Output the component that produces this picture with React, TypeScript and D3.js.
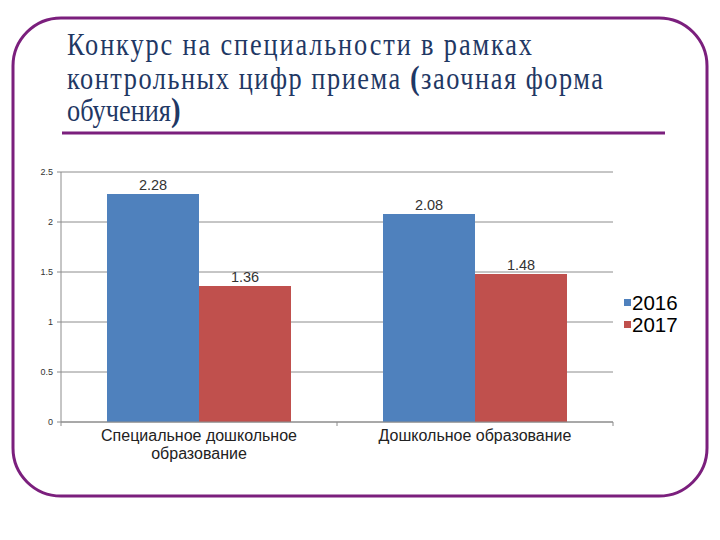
import React from 'react';
import * as d3 from 'd3';

const categories = ['Специальное дошкольное образование', 'Дошкольное образование'];
const categoryLines = [['Специальное дошкольное', 'образование'], ['Дошкольное образование']];
const seriesNames = ['2016', '2017'];
const values2016 = [2.28, 2.08];
const values2017 = [1.36, 1.48];
const yTicks = [0, 0.5, 1, 1.5, 2, 2.5];
const titleLines = ['Конкурс на специальности в рамках', 'контрольных цифр приема ', 'обучения'];

const colors = ['#4f81bd', '#c0504d'];
const purple = '#7b1f7d';
const titleColor = '#1f3864';
const sans = 'Liberation Sans';
const serif = 'Liberation Serif';

const App: React.FC = () => {
  const width = 720;
  const height = 540;
  const plot = { left: 61, right: 613, top: 172, bottom: 422 };

  const x0 = d3.scaleBand<string>()
    .domain(categories)
    .range([plot.left, plot.right]);
  const x1 = d3.scaleBand<string>()
    .domain(seriesNames)
    .range([0, x0.bandwidth()])
    .paddingOuter(0.5);
  const y = d3.scaleLinear().domain([0, 2.5]).range([plot.bottom, plot.top]);

  const series = [values2016, values2017];
  // title glyphs are condensed in the original
  const sx = 0.85;

  return (
    <svg width={width} height={height} style={{ position: 'absolute', left: 0, top: 0 }}>
      <rect width={width} height={height} fill="#fff" />
      <rect x={13} y={18} width={694} height={478} rx={48} ry={48}
        fill="none" stroke={purple} strokeWidth={3} />

      {/* title */}
      <g transform={`scale(${sx},1)`}>
        <text x={67 / sx} y={55} fontFamily={serif} fill={titleColor} fontSize={31}
          textLength={465 / sx} lengthAdjust="spacing">{titleLines[0]}</text>
        <text x={67 / sx} y={89} fontFamily={serif} fill={titleColor} fontSize={31}
          textLength={536 / sx} lengthAdjust="spacing">
          {titleLines[1]}<tspan fontWeight="bold" fontSize={34}>(</tspan>заочная форма
        </text>
        <text x={67 / sx} y={121} fontFamily={serif} fill={titleColor} fontSize={31}>
          {titleLines[2]}<tspan fontWeight="bold" fontSize={34}>)</tspan>
        </text>
      </g>
      <line x1={62} x2={665} y1={133} y2={133} stroke={purple} strokeWidth={3} />

      {/* grid */}
      {yTicks.map(t => (
        <line key={t} x1={plot.left} x2={plot.right} y1={y(t)} y2={y(t)}
          stroke="#8c8c8c" strokeWidth={1} />
      ))}
      <line x1={plot.left} x2={plot.left} y1={plot.top} y2={plot.bottom} stroke="#8c8c8c" />
      {yTicks.map(t => (
        <g key={'yt' + t}>
          <line x1={plot.left - 4} x2={plot.left} y1={y(t)} y2={y(t)} stroke="#8c8c8c" />
          <text x={plot.left - 8} y={y(t) + 3} fontSize={9} textAnchor="end"
            fontFamily={sans} fill="#333">{t}</text>
        </g>
      ))}

      {/* bars */}
      {categories.map((c, ci) => (
        <g key={c} transform={`translate(${x0(c)},0)`}>
          {seriesNames.map((s, si) => {
            const v = series[si][ci];
            const bx = x1(s) as number;
            return (
              <g key={s}>
                <rect x={bx} y={y(v)} width={x1.bandwidth()} height={y(0) - y(v)}
                  fill={colors[si]} />
                <text x={bx + x1.bandwidth() / 2} y={y(v) - 4} fontSize={14.5} textAnchor="middle"
                  fontFamily={sans} fill="#333">{v}</text>
              </g>
            );
          })}
        </g>
      ))}

      {/* x axis */}
      <line x1={plot.left} x2={plot.right} y1={plot.bottom} y2={plot.bottom} stroke="#8c8c8c" />
      {[...categories.map(c => x0(c) as number), plot.right].map((tx, i) => (
        <line key={'xt' + i} x1={tx} x2={tx} y1={plot.bottom} y2={plot.bottom + 4} stroke="#8c8c8c" />
      ))}
      {categories.map((c, ci) => (
        <text key={'xl' + c} textAnchor="middle" fontSize={16}
          fontFamily={sans} fill="#222">
          {categoryLines[ci].map((l, li) => (
            <tspan key={li} x={(x0(c) as number) + x0.bandwidth() / 2} y={441 + li * 18}>{l}</tspan>
          ))}
        </text>
      ))}

      {/* legend */}
      {seriesNames.map((s, si) => (
        <g key={'lg' + s} transform={`translate(624,${299 + si * 22})`}>
          <rect x={0} y={0} width={7} height={7} fill={colors[si]} />
          <text x={8} y={11} fontSize={20.5}
            fontFamily={sans} fill="#000">{s}</text>
        </g>
      ))}
    </svg>
  );
};

export default App;
